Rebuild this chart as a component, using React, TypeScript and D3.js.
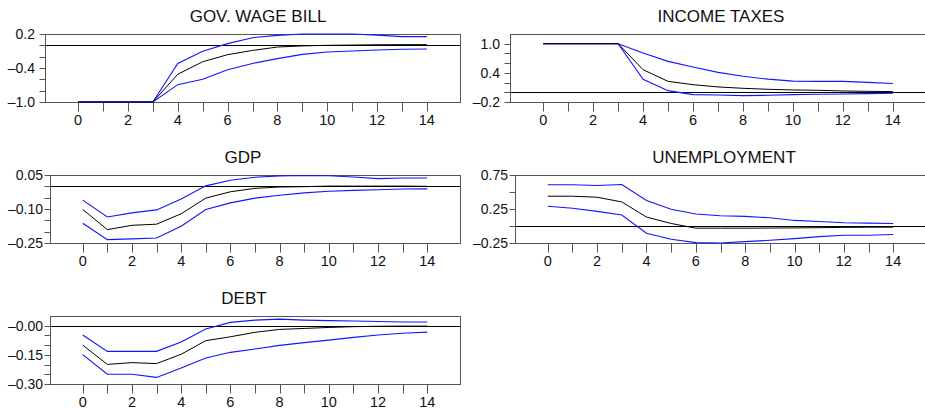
import React from 'react';
import * as d3 from 'd3';

// periods after the shock
const periods = [0, 1, 2, 3, 4, 5, 6, 7, 8, 9, 10, 11, 12, 13, 14];
const xLabelPeriods = [0, 2, 4, 6, 8, 10, 12, 14];

// GOV. WAGE BILL
const wageResp = [-1, -1, -1, -1, -0.51, -0.29, -0.165, -0.09, -0.03, -0.01, 0.0, 0.005, 0.01, 0.012, 0.012];
const wageUpper = [-1, -1, -1, -1, -0.32, -0.106, 0.03, 0.135, 0.176, 0.2, 0.2, 0.2, 0.18, 0.153, 0.153];
const wageLower = [-1, -1, -1, -1, -0.694, -0.6, -0.43, -0.32, -0.235, -0.16, -0.118, -0.1, -0.082, -0.07, -0.065];
const wageTicks = [-1.0, -0.8, -0.6, -0.4, -0.2, 0.0, 0.2];
const wageLabels = [['0.2', 0.2], ['\u20130.4', -0.4], ['\u20131.0', -1.0]];

// INCOME TAXES
const taxResp = [1, 1, 1, 1, 0.465, 0.225, 0.157, 0.11, 0.082, 0.062, 0.048, 0.041, 0.027, 0.02, 0.014];
const taxUpper = [1, 1, 1, 1, 0.81, 0.636, 0.52, 0.41, 0.33, 0.27, 0.23, 0.225, 0.225, 0.205, 0.18];
const taxLower = [1, 1, 1, 1, 0.267, 0.034, -0.048, -0.055, -0.068, -0.062, -0.048, -0.041, -0.034, -0.027, -0.02];
const taxTicks = [-0.2, 0.0, 0.2, 0.4, 0.6, 0.8, 1.0];
const taxLabels = [['1.0', 1.0], ['0.4', 0.4], ['\u20130.2', -0.2]];

// GDP
const gdpResp = [-0.102, -0.191, -0.172, -0.167, -0.121, -0.052, -0.024, -0.009, -0.003, -0.0015, 0.001, 0.001, 0.001, 0.001, 0];
const gdpUpper = [-0.061, -0.135, -0.117, -0.104, -0.056, 0.002, 0.027, 0.04, 0.046, 0.048, 0.047, 0.041, 0.034, 0.037, 0.037];
const gdpLower = [-0.163, -0.235, -0.232, -0.228, -0.176, -0.102, -0.073, -0.052, -0.039, -0.029, -0.022, -0.018, -0.015, -0.012, -0.011];
const gdpTicks = [-0.25, -0.2, -0.15, -0.1, -0.05, 0.0, 0.05];
const gdpLabels = [['0.05', 0.05], ['\u20130.10', -0.1], ['\u20130.25', -0.25]];

// UNEMPLOYMENT
const unempResp = [0.438, 0.438, 0.423, 0.354, 0.131, 0.037, -0.032, -0.032, -0.032, -0.03, -0.028, -0.025, -0.02, -0.018, -0.017];
const unempUpper = [0.606, 0.606, 0.596, 0.611, 0.374, 0.245, 0.176, 0.151, 0.141, 0.121, 0.082, 0.067, 0.047, 0.042, 0.037];
const unempLower = [0.29, 0.26, 0.215, 0.161, -0.106, -0.195, -0.245, -0.25, -0.23, -0.21, -0.186, -0.156, -0.136, -0.136, -0.126];
const unempTicks = [-0.25, 0.0, 0.25, 0.5, 0.75];
const unempLabels = [['0.75', 0.75], ['0.25', 0.25], ['\u20130.25', -0.25]];

// DEBT
const debtResp = [-0.1, -0.199, -0.19, -0.195, -0.147, -0.077, -0.057, -0.034, -0.019, -0.014, -0.009, -0.005, -0.003, -0.002, -0.002];
const debtUpper = [-0.048, -0.132, -0.132, -0.132, -0.084, -0.017, 0.017, 0.029, 0.034, 0.029, 0.026, 0.024, 0.022, 0.019, 0.019];
const debtLower = [-0.149, -0.249, -0.25, -0.266, -0.218, -0.166, -0.137, -0.12, -0.101, -0.087, -0.074, -0.06, -0.048, -0.039, -0.033];
const debtTicks = [-0.3, -0.25, -0.2, -0.15, -0.1, -0.05, 0.0];
const debtLabels = [['\u20130.00', 0.0], ['\u20130.15', -0.15], ['\u20130.30', -0.3]];

const panels = [
  { title: 'GOV. WAGE BILL', resp: wageResp, upper: wageUpper, lower: wageLower, domain: [-1.0, 0.2], ticks: wageTicks, labels: wageLabels,
    box: { left: 45, right: 460, top: 34 }, labelGap: 10, titleX: 258 },
  { title: 'INCOME TAXES', resp: taxResp, upper: taxUpper, lower: taxLower, domain: [-0.2, 1.2], ticks: taxTicks, labels: taxLabels,
    box: { left: 510, right: 926, top: 34 }, labelGap: 10, titleX: 721 },
  { title: 'GDP', resp: gdpResp, upper: gdpUpper, lower: gdpLower, domain: [-0.25, 0.05], ticks: gdpTicks, labels: gdpLabels,
    box: { left: 50, right: 460, top: 175 }, labelGap: 7, titleX: 243 },
  { title: 'UNEMPLOYMENT', resp: unempResp, upper: unempUpper, lower: unempLower, domain: [-0.25, 0.75], ticks: unempTicks, labels: unempLabels,
    box: { left: 515, right: 926, top: 175 }, labelGap: 7, titleX: 724 },
  { title: 'DEBT', resp: debtResp, upper: debtUpper, lower: debtLower, domain: [-0.3, 0.05], ticks: debtTicks, labels: debtLabels,
    box: { left: 50, right: 460, top: 316 }, labelGap: 7, titleX: 244 },
];

const FONT = '"Liberation Sans", Arial, Helvetica, sans-serif';
const AXIS = '#555';
const BOX_H = 68;

const Panel = ({ p }: { p: any }) => {
  const { left, right, top } = p.box;
  const bottom = top + BOX_H;

  const x = d3.scaleLinear().domain([-1.33, 15.33]).range([left, right]);
  const y = d3.scaleLinear().domain(p.domain).range([bottom, top]);

  const line = d3
    .line<number>()
    .x((_, i) => x(periods[i]))
    .y((d) => y(d));

  const px = (v: number) => Math.round(v) + 0.5;

  return (
    <g>
      <text x={p.titleX} y={top - 12.5} textAnchor="middle" fontSize={17} fontFamily={FONT} fill="#111">
        {p.title}
      </text>

      {/* frame */}
      <rect x={px(left)} y={px(top)} width={Math.round(right) - Math.round(left)} height={BOX_H}
        fill="none" stroke={AXIS} strokeWidth={1} />

      {/* y ticks */}
      {p.ticks.map((t: number) => (
        <line key={'yt' + t} x1={px(left) - 6} x2={px(left)} y1={px(y(t))} y2={px(y(t))} stroke={AXIS} />
      ))}
      {p.labels.map(([s, v]: [string, number]) => (
        <text key={'yl' + s} x={left - p.labelGap} y={y(v)} dy="0.36em" textAnchor="end"
          fontSize={14} fontFamily={FONT} fill="#111">
          {s}
        </text>
      ))}

      {/* x ticks */}
      {periods.map((t) => (
        <line key={'xt' + t} x1={px(x(t))} x2={px(x(t))} y1={px(bottom)} y2={px(bottom) + 9} stroke={AXIS} />
      ))}
      {xLabelPeriods.map((t) => (
        <text key={'xl' + t} x={x(t)} y={bottom + 22.5} textAnchor="middle" fontSize={14.5} fontFamily={FONT} fill="#111">
          {t}
        </text>
      ))}

      {/* zero line */}
      <line x1={px(left)} x2={right} y1={px(y(0))} y2={px(y(0))} stroke="#000" strokeWidth={1} />

      <path d={line(p.upper) || ''} fill="none" stroke="#1414ff" strokeWidth={1.1} />
      <path d={line(p.lower) || ''} fill="none" stroke="#1414ff" strokeWidth={1.1} />
      <path d={line(p.resp) || ''} fill="none" stroke="#000" strokeWidth={1} />
    </g>
  );
};

export default function App() {
  return (
    <svg width={925} height={409} style={{ position: 'absolute', left: 0, top: 0, background: '#fff' }}>
      <rect width={925} height={409} fill="#fff" />
      {panels.map((p) => (
        <Panel key={p.title} p={p} />
      ))}
    </svg>
  );
}
